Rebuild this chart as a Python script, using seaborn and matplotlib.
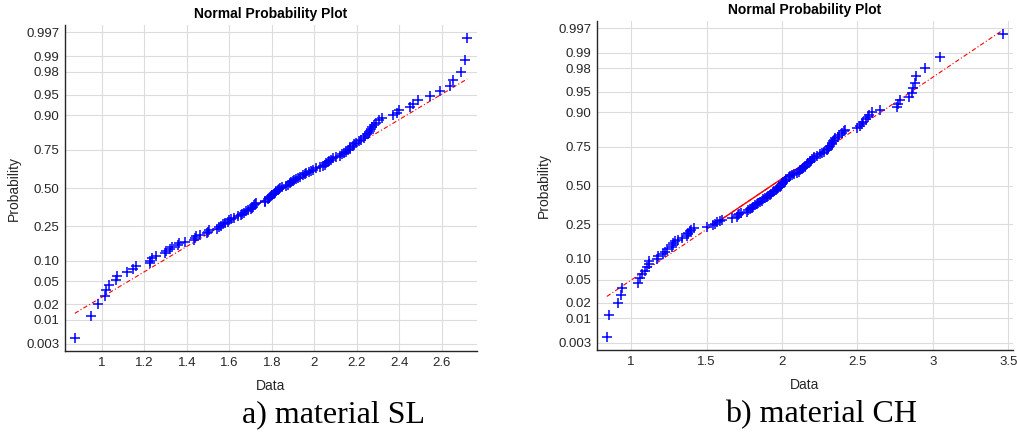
import numpy as np
import pandas as pd
import matplotlib
matplotlib.use("Agg")
import matplotlib.pyplot as plt
import seaborn as sns
from statistics import NormalDist

# ---- data (sorted sample values) ----
sl_values = [
    0.872, 0.947, 0.983, 1.013, 1.020, 1.032, 1.066, 1.070, 1.118, 1.146,
    1.162, 1.224, 1.228, 1.237, 1.256, 1.298, 1.300, 1.320, 1.330, 1.358,
    1.365, 1.389, 1.432, 1.436, 1.444, 1.460, 1.495, 1.500, 1.505, 1.540,
    1.550, 1.562, 1.570, 1.580, 1.595, 1.600, 1.609, 1.620, 1.640, 1.656,
    1.660, 1.670, 1.680, 1.690, 1.700, 1.705, 1.712, 1.718, 1.720, 1.726,
    1.766, 1.770, 1.780, 1.785, 1.790, 1.795, 1.800, 1.810, 1.815, 1.820,
    1.828, 1.835, 1.840, 1.850, 1.865, 1.875, 1.885, 1.890, 1.900, 1.905,
    1.915, 1.925, 1.935, 1.946, 1.955, 1.962, 1.977, 1.985, 1.993, 2.009,
    2.025, 2.040, 2.050, 2.056, 2.064, 2.070, 2.080, 2.090, 2.103, 2.119,
    2.130, 2.142, 2.150, 2.160, 2.166, 2.170, 2.180, 2.185, 2.197, 2.210,
    2.220, 2.236, 2.240, 2.250, 2.257, 2.262, 2.268, 2.270, 2.280, 2.290,
    2.307, 2.320, 2.370, 2.390, 2.400, 2.450, 2.464, 2.490, 2.545, 2.590,
    2.640, 2.655, 2.690, 2.710, 2.720,
]

ch_values = [
    0.839, 0.854, 0.912, 0.934, 0.938, 1.044, 1.060, 1.070, 1.093, 1.104,
    1.115, 1.120, 1.170, 1.180, 1.214, 1.225, 1.240, 1.270, 1.275, 1.280,
    1.290, 1.310, 1.340, 1.370, 1.375, 1.380, 1.390, 1.400, 1.420, 1.500,
    1.545, 1.555, 1.567, 1.590, 1.600, 1.667, 1.700, 1.710, 1.715, 1.730,
    1.766, 1.775, 1.788, 1.800, 1.810, 1.820, 1.832, 1.844, 1.855, 1.866,
    1.877, 1.888, 1.900, 1.910, 1.920, 1.930, 1.943, 1.950, 1.960, 1.970,
    1.976, 1.985, 1.993, 1.998, 2.005, 2.010, 2.020, 2.025, 2.030, 2.045,
    2.055, 2.064, 2.080, 2.097, 2.110, 2.120, 2.130, 2.140, 2.150, 2.155,
    2.164, 2.175, 2.185, 2.190, 2.200, 2.210, 2.215, 2.230, 2.250, 2.263,
    2.280, 2.300, 2.307, 2.310, 2.320, 2.330, 2.335, 2.340, 2.345, 2.350,
    2.370, 2.380, 2.395, 2.410, 2.420, 2.500, 2.520, 2.530, 2.540, 2.560,
    2.570, 2.580, 2.600, 2.650, 2.760, 2.770, 2.780, 2.840, 2.860, 2.870,
    2.880, 2.890, 2.950, 3.050, 3.466,
]

prob_ticks = [0.003, 0.01, 0.02, 0.05, 0.10, 0.25, 0.50, 0.75, 0.90, 0.95, 0.98, 0.99, 0.997]
prob_labels = ["0.003", "0.01", "0.02", "0.05", "0.10", "0.25", "0.50", "0.75",
               "0.90", "0.95", "0.98", "0.99", "0.997"]
sl_xticks = [1, 1.2, 1.4, 1.6, 1.8, 2, 2.2, 2.4, 2.6]
sl_xlabels = ["1", "1.2", "1.4", "1.6", "1.8", "2", "2.2", "2.4", "2.6"]
ch_xticks = [1, 1.5, 2, 2.5, 3, 3.5]
ch_xlabels = ["1", "1.5", "2", "2.5", "3", "3.5"]
captions = ["a) material SL", "b) material CH"]

# ---- style ----
sns.set_theme(style="white")
plt.rcParams["font.family"] = ["Liberation Sans", "DejaVu Sans"]
TXT = "#262626"
nd = NormalDist()

fig = plt.figure(figsize=(10.17, 4.38), dpi=100)
ax1 = fig.add_axes([0.0639, 0.1986, 0.4051, 0.7443])
ax2 = fig.add_axes([0.587, 0.2009, 0.409, 0.7511])


def normplot(ax, values, xticks, xlabels):
    x = np.sort(np.asarray(values, dtype=float))
    n = len(x)
    z = np.array([nd.inv_cdf((i - 0.5) / n) for i in range(1, n + 1)])
    df = pd.DataFrame({"Data": x, "z": z})

    q1, q3 = np.percentile(x, [25, 75], method="hazen")
    z1, z3 = nd.inv_cdf(0.25), nd.inv_cdf(0.75)
    slope = (z3 - z1) / (q3 - q1)
    lo, hi = x.min(), x.max()
    ext = pd.DataFrame({"x": [lo, hi], "y": [z1 + slope * (lo - q1), z1 + slope * (hi - q1)]})
    mid = pd.DataFrame({"x": [q1, q3], "y": [z1, z3]})

    sns.lineplot(data=ext, x="x", y="y", ax=ax, color="red", linewidth=0.8,
                 linestyle=(0, (4, 2, 1, 2)), estimator=None, sort=False, zorder=2)
    sns.lineplot(data=mid, x="x", y="y", ax=ax, color="red", linewidth=1.0,
                 estimator=None, sort=False, zorder=2)
    sns.scatterplot(data=df, x="Data", y="z", ax=ax, marker="+", color="blue",
                    s=55, linewidth=1.1, zorder=3)

    rng = hi - lo
    ax.set_xlim(lo - 0.025 * rng, hi + 0.025 * rng)
    zl = nd.inv_cdf(0.25 / n)
    ax.set_ylim(zl, -zl)
    ax.set_yticks([nd.inv_cdf(p) for p in prob_ticks])
    ax.set_yticklabels(prob_labels)
    ax.set_xticks(xticks)
    ax.set_xticklabels(xlabels)
    ax.grid(True, color="#dcdcdc", linewidth=0.8)
    ax.set_axisbelow(True)
    for s in ["top", "right"]:
        ax.spines[s].set_visible(False)
    for s in ["left", "bottom"]:
        ax.spines[s].set_color(TXT)
        ax.spines[s].set_linewidth(1.0)
    ax.tick_params(axis="both", labelsize=9.5, colors=TXT, length=0, pad=4)
    ax.set_title("Normal Probability Plot", fontsize=10, fontweight="bold",
                 color="black", pad=5)
    ax.set_xlabel("Data", fontsize=10, color=TXT)
    ax.set_ylabel("Probability", fontsize=10, color=TXT)
    ax.xaxis.set_label_coords(0.5, -0.085)


normplot(ax1, sl_values, sl_xticks, sl_xlabels)
normplot(ax2, ch_values, ch_xticks, ch_xlabels)
ax1.yaxis.set_label_coords(-0.108, 0.5)
ax2.yaxis.set_label_coords(-0.112, 0.5)

fig.text(334 / 1017, 1 - 415 / 438, captions[0], fontsize=23, family="Liberation Serif",
         ha="center", va="center", color="black")
fig.text(821 / 1017, 1 - 415 / 438, captions[1], fontsize=23, family="Liberation Serif",
         ha="center", va="center", color="black")

fig.savefig("out.png", dpi=100)
